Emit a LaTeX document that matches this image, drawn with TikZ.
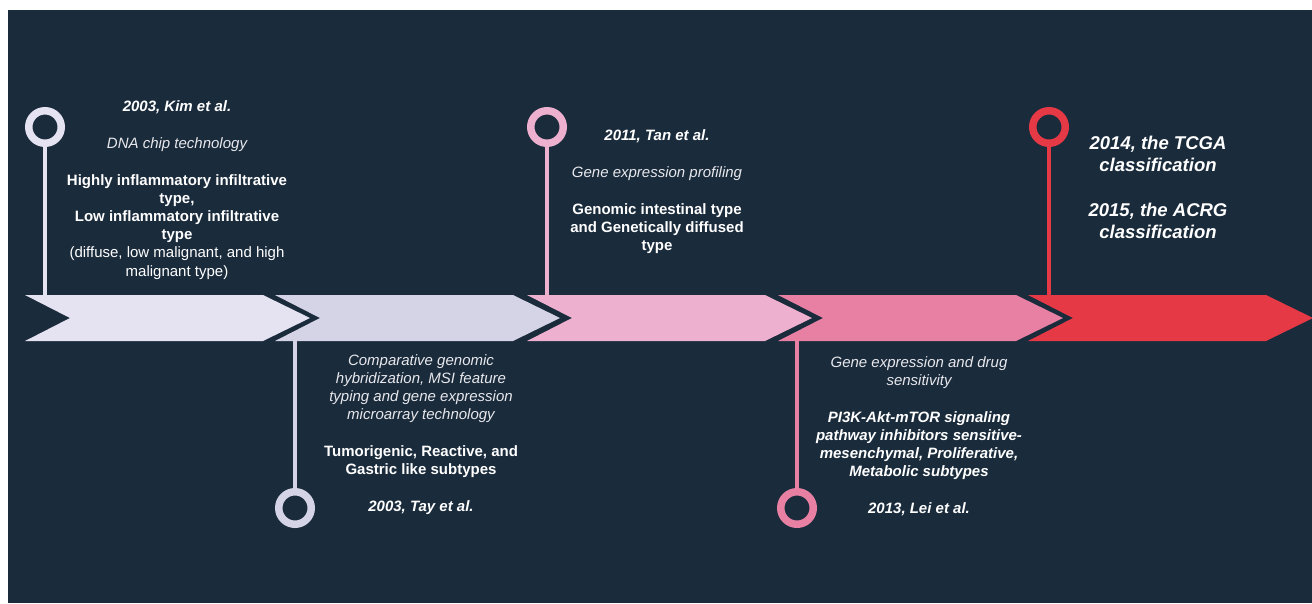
\documentclass[tikz,border=0pt]{standalone}
\usepackage{fontspec}
\setmainfont{Liberation Sans}

\definecolor{bgnavy}{HTML}{1A2B3C}
\definecolor{lavlight}{HTML}{E5E3F1}
\definecolor{lavdark}{HTML}{D5D3E6}
\definecolor{pinklight}{HTML}{EEB0CF}
\definecolor{pinkdark}{HTML}{E880A4}
\definecolor{redmark}{HTML}{E63946}
\definecolor{softwhite}{HTML}{E8E8EC}

\tikzset{
	pin/.style = {circle, draw = #1, line width = 7.5pt, minimum size = 32.5pt, inner sep = 0pt},
	stem/.style = {draw = #1, line width = 4pt},
	blurb/.style = {text = white, align = center, anchor = north, inner sep = 0pt, font = \fontsize{15}{18.2}\selectfont},
	bigblurb/.style = {text = white, align = center, anchor = north, inner sep = 0pt, font = \fontsize{18.5}{22}\selectfont\bfseries\itshape}
}

\begin{document}
\begin{tikzpicture}[x = 1pt, y = -1pt]
	\fill[white] (0, 0) rectangle (1312, 603);
	\useasboundingbox (0, 0) rectangle (1312, 603);
	\fill[bgnavy] (8, 10) rectangle (1312, 603);
	
	\coordinate (kimbar) at (45, 295);
	\coordinate (taybar) at (295, 341);
	\coordinate (tanbar) at (547, 295);
	\coordinate (leibar) at (797, 341);
	\coordinate (tcgabar) at (1049, 295);
	
	\node[pin = lavlight] (kimpin) at (45, 127) {};
	\node[pin = lavdark] (taypin) at (295, 508) {};
	\node[pin = pinklight] (tanpin) at (547, 127) {};
	\node[pin = pinkdark] (leipin) at (797, 508) {};
	\node[pin = redmark] (tcgapin) at (1049, 127) {};
	
	\draw[stem = lavlight] (kimpin.south) -- (kimbar);
	\draw[stem = lavdark] (taypin.north) -- (taybar);
	\draw[stem = pinklight] (tanpin.south) -- (tanbar);
	\draw[stem = pinkdark] (leipin.north) -- (leibar);
	\draw[stem = redmark] (tcgapin.south) -- (tcgabar);
	
	\fill[lavlight] (25, 295) -- (263, 295) -- (310, 318) -- (263, 341) -- (25, 341) -- (70, 318) -- cycle;
	\fill[lavdark] (275, 295) -- (513, 295) -- (560, 318) -- (513, 341) -- (275, 341) -- (320, 318) -- cycle;
	\fill[pinklight] (527, 295) -- (765, 295) -- (812, 318) -- (765, 341) -- (527, 341) -- (572, 318) -- cycle;
	\fill[pinkdark] (778, 295) -- (1016, 295) -- (1063, 318) -- (1016, 341) -- (778, 341) -- (823, 318) -- cycle;
	\fill[redmark] (1028, 295) -- (1266, 295) -- (1313, 318) -- (1266, 341) -- (1028, 341) -- (1073, 318) -- cycle;
	
	\node[blurb] (kimtext) at (177, 100) {{\bfseries\itshape 2003, Kim et al.}\\[18.8pt]
		{\itshape\color{softwhite} DNA chip technology}\\[18.8pt]
		{\bfseries Highly inflammatory infiltrative}\\
		{\bfseries type,}\\
		{\bfseries Low inflammatory infiltrative}\\
		{\bfseries type}\\
		(diffuse, low malignant, and high\\
		malignant type)};
	
	\node[blurb] (taytext) at (421, 354) {{\itshape\color{softwhite} Comparative genomic}\\
		{\itshape\color{softwhite} hybridization, MSI feature}\\
		{\itshape\color{softwhite} typing and gene expression}\\
		{\itshape\color{softwhite} microarray technology}\\[18.8pt]
		{\bfseries Tumorigenic, Reactive, and}\\
		{\bfseries Gastric like subtypes}\\[18.8pt]
		{\bfseries\itshape 2003, Tay et al.}};
	
	\node[blurb] (tantext) at (657, 129) {{\bfseries\itshape 2011, Tan et al.}\\[18.8pt]
		{\itshape\color{softwhite} Gene expression profiling}\\[18.8pt]
		{\bfseries Genomic intestinal type}\\
		{\bfseries and Genetically diffused}\\
		{\bfseries type}};
	
	\node[blurb] (leitext) at (919, 356) {{\itshape\color{softwhite} Gene expression and drug}\\
		{\itshape\color{softwhite} sensitivity}\\[18.8pt]
		{\bfseries\itshape PI3K-Akt-mTOR signaling}\\
		{\bfseries\itshape pathway inhibitors sensitive-}\\
		{\bfseries\itshape mesenchymal, Proliferative,}\\
		{\bfseries\itshape Metabolic subtypes}\\[18.8pt]
		{\bfseries\itshape 2013, Lei et al.}};
	
	\node[bigblurb] (tcgatext) at (1158, 136) {2014, the TCGA\\
		classification\\[23pt]
		2015, the ACRG\\
		classification};
\end{tikzpicture}
\end{document}
